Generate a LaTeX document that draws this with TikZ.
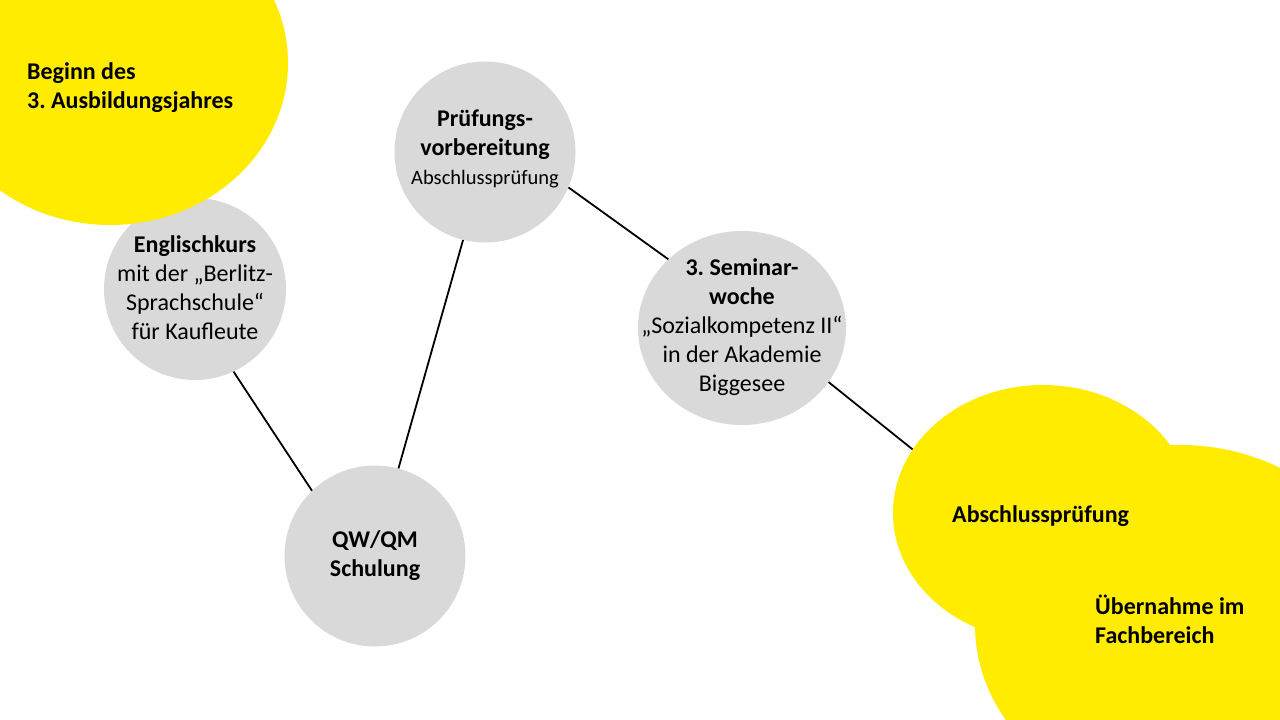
\documentclass[tikz,border=0pt]{standalone}
\usepackage{fontspec}
\setmainfont{Carlito}
\frenchspacing
\usetikzlibrary{shapes.geometric}
\definecolor{ygelb}{HTML}{FFEC00}
\definecolor{kgrau}{HTML}{D9D9D9}
\begin{document}
\begin{tikzpicture}[x=1pt,y=-1pt,
  grayc/.style={circle, fill=kgrau, inner sep=0pt},
  grayel/.style={ellipse, fill=kgrau, inner sep=0pt},
  ctext/.style={inner sep=0pt, align=center, font=\fontsize{24}{29}\selectfont},
  yel/.style={ellipse, fill=ygelb, inner sep=0pt},
  lbl/.style={anchor=west, inner sep=0pt, align=left, font=\fontsize{24}{29}\selectfont\bfseries},
  conn/.style={draw=black, line width=1.8pt}]
\useasboundingbox (0,0) rectangle (1280,720);
\clip (0,0) rectangle (1280,720);
\fill[white] (0,0) rectangle (1280,720);

% gray circles
\node[grayc, minimum size=182pt] (eng) at (195,289) {};
\node[ctext] (teng) at (195,288) {\textbf{Englischkurs}\\mit der „Berlitz-\\Sprachschule“\\für Kaufleute};
\node[grayc, minimum size=181pt] (pruef) at (485,152) {};
\node[ctext] (tpruef) at (485,149) {\textbf{Prüfungs-}\\\textbf{vorbereitung}\\{\fontsize{20.5}{26}\selectfont Abschlussprüfung}};
\node[grayel, minimum width=208pt, minimum height=194pt] (sem) at (742,328) {};
\node[ctext] (tsem) at (742,327) {\textbf{3. Seminar-}\\\textbf{woche}\\„Sozialkompetenz II“\\in der Akademie\\Biggesee};
\node[grayc, minimum size=181pt] (qw) at (375,556) {};
\node[ctext] (tqw) at (375,556) {\textbf{QW/QM}\\\textbf{Schulung}};

% yellow shapes
\node[yel, minimum width=356pt, minimum height=324pt] (start) at (110,63) {};
\node[yel, minimum width=410pt, minimum height=360pt] (uebern) at (1180,625) {};
\node[yel, minimum width=300pt, minimum height=256pt] (ab) at (1043,513) {};

% labels in yellow shapes
\node[lbl] (tstart) at (27,88) {Beginn des\\3. Ausbildungsjahres};
\node[lbl] (tab) at (952,516) {Abschlussprüfung};
\node[lbl] (tueb) at (1095,619) {Übernahme im\\Fachbereich};

% connectors
\draw[conn] (eng.-65) -- (qw.134);
\draw[conn] (qw.75.5) -- (pruef.256.4);
\draw[conn] (pruef.-23) -- (sem.137);
\draw[conn] (sem.-32) -- (ab.154);
\end{tikzpicture}
\end{document}
